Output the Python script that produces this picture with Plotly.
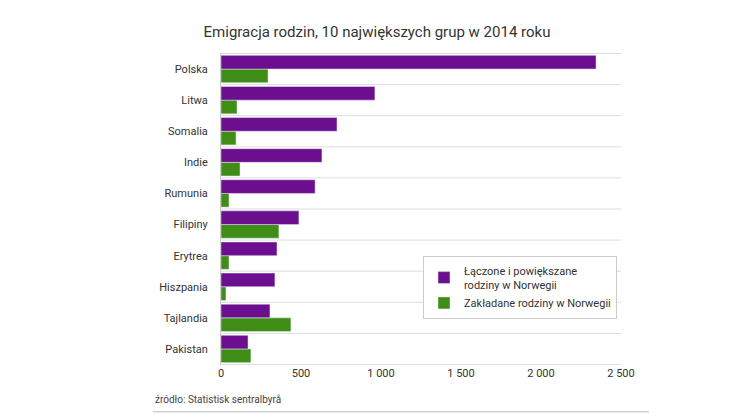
import plotly.graph_objects as go

countries = ["Polska", "Litwa", "Somalia", "Indie", "Rumunia", "Filipiny",
             "Erytrea", "Hiszpania", "Tajlandia", "Pakistan"]
laczone = [2344, 962, 725, 631, 588, 487, 350, 337, 306, 169]
zakladane = [294, 100, 94, 119, 50, 362, 50, 31, 437, 187]

fig = go.Figure()
# green first so purple sits on top within each group
fig.add_bar(y=countries, x=zakladane, orientation="h", marker_color="#3f8c17",
            name="Zakładane rodziny w Norwegii")
fig.add_bar(y=countries, x=laczone, orientation="h", marker_color="#6b0f8e",
            name="Łączone i powiększane<br>rodziny w Norwegii")

fig.update_layout(
    width=738, height=414, barmode="group", bargap=0.12, bargroupgap=0,
    plot_bgcolor="white", paper_bgcolor="white",
    font=dict(family="Roboto", size=11, color="#333"),
    title=dict(text="Emigracja rodzin, 10 największych grup w 2014 roku",
               x=0.5, xanchor="center", y=0.955, font=dict(size=15, color="#333")),
    margin=dict(l=213, r=125, t=45, b=57),
    legend=dict(x=0.99, y=0.35, xanchor="right", yanchor="top", bordercolor="#ccc",
                borderwidth=1, traceorder="reversed", font=dict(size=11)),
    annotations=[dict(text="źródło: Statistisk sentralbyrå", xref="paper", yref="paper",
                      x=-0.17, y=-0.11, xanchor="left", yanchor="middle", showarrow=False,
                      font=dict(size=10, color="#444"))],
)
fig.update_yaxes(categoryorder="array", categoryarray=countries[::-1],
                 showgrid=False, ticks="", ticklabelstandoff=10,
                 showline=True, linecolor="#ccc")
fig.update_xaxes(range=[0, 2500], showgrid=False, zeroline=False,
                 tickvals=[0, 500, 1000, 1500, 2000, 2500],
                 ticktext=["0", "500", "1 000", "1 500", "2 000", "2 500"])
for i in range(len(countries) + 1):
    fig.add_shape(type="line", xref="paper", yref="y", x0=0, x1=1,
                  y0=i - 0.5, y1=i - 0.5, line=dict(color="#ddd", width=1), layer="below")
fig.add_shape(type="line", xref="paper", yref="paper", x0=-0.17, x1=1.07,
              y0=-0.15, y1=-0.15, line=dict(color="#bbb", width=1))
fig.write_html("out.html")
